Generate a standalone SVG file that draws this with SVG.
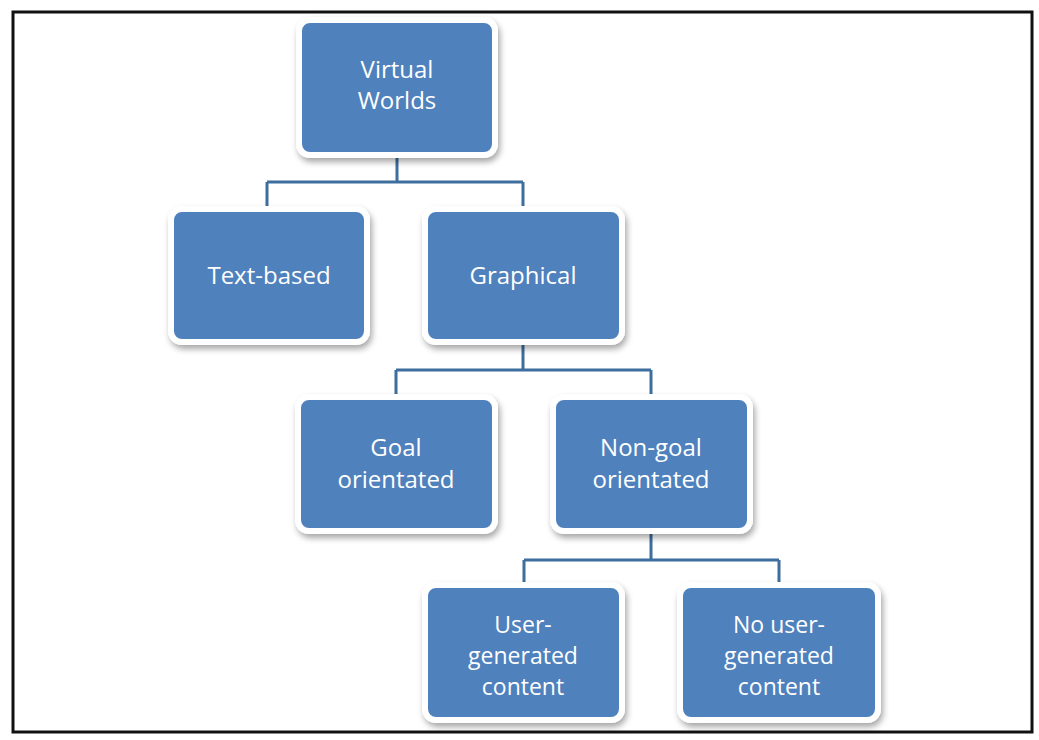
<svg xmlns="http://www.w3.org/2000/svg" width="1039" height="740" viewBox="0 0 1039 740">
<defs>
<filter id="sh" x="-10%" y="-10%" width="125%" height="130%">
<feDropShadow dx="2" dy="4" stdDeviation="3" flood-color="#000" flood-opacity="0.35"/>
</filter>
<style>
.box{fill:#4f81bd;stroke:#ffffff;stroke-width:6;filter:url(#sh)}
.lbl{font-family:"Open Sans","Liberation Sans",sans-serif;font-size:24px;fill:#ffffff;text-anchor:middle}
.sm{font-size:23px}
.con{fill:none;stroke:#3d6e9e;stroke-width:3}
</style>
</defs>
<rect x="0" y="0" width="1039" height="740" fill="#ffffff"/>
<rect x="13" y="12" width="1019" height="720" fill="none" stroke="#111" stroke-width="3"/>
<g id="connectors">
<path class="con" d="M397 155 V182 M267 182 H523 M267 182 V209 M523 182 V209"/>
<path class="con" d="M523 342 V370 M396 370 H651 M396 370 V397 M651 370 V397"/>
<path class="con" d="M651 531 V560 M524 560 H779 M524 560 V585 M779 560 V585"/>
</g>
<g id="virtual-worlds">
<rect class="box" x="299" y="20" width="196" height="135" rx="11"/>
<text class="lbl" x="397" y="78">Virtual</text>
<text class="lbl" x="397" y="109">Worlds</text>
</g>
<g id="text-based">
<rect class="box" x="171" y="209" width="196" height="133" rx="11"/>
<text class="lbl" x="269" y="284">Text-based</text>
</g>
<g id="graphical">
<rect class="box" x="425" y="209" width="197" height="133" rx="11"/>
<text class="lbl" x="523" y="284">Graphical</text>
</g>
<g id="goal-orientated">
<rect class="box" x="298" y="397" width="197" height="134" rx="11"/>
<text class="lbl" x="396" y="456">Goal</text>
<text class="lbl" x="396" y="488">orientated</text>
</g>
<g id="non-goal-orientated">
<rect class="box" x="553" y="397" width="197" height="134" rx="11"/>
<text class="lbl" x="651" y="456">Non-goal</text>
<text class="lbl" x="651" y="488">orientated</text>
</g>
<g id="user-generated">
<rect class="box" x="425" y="585" width="197" height="135" rx="11"/>
<text class="lbl sm" x="523" y="633">User-</text>
<text class="lbl sm" x="523" y="664">generated</text>
<text class="lbl sm" x="523" y="695">content</text>
</g>
<g id="no-user-generated">
<rect class="box" x="680" y="585" width="198" height="135" rx="11"/>
<text class="lbl sm" x="779" y="633">No user-</text>
<text class="lbl sm" x="779" y="664">generated</text>
<text class="lbl sm" x="779" y="695">content</text>
</g>
</svg>
